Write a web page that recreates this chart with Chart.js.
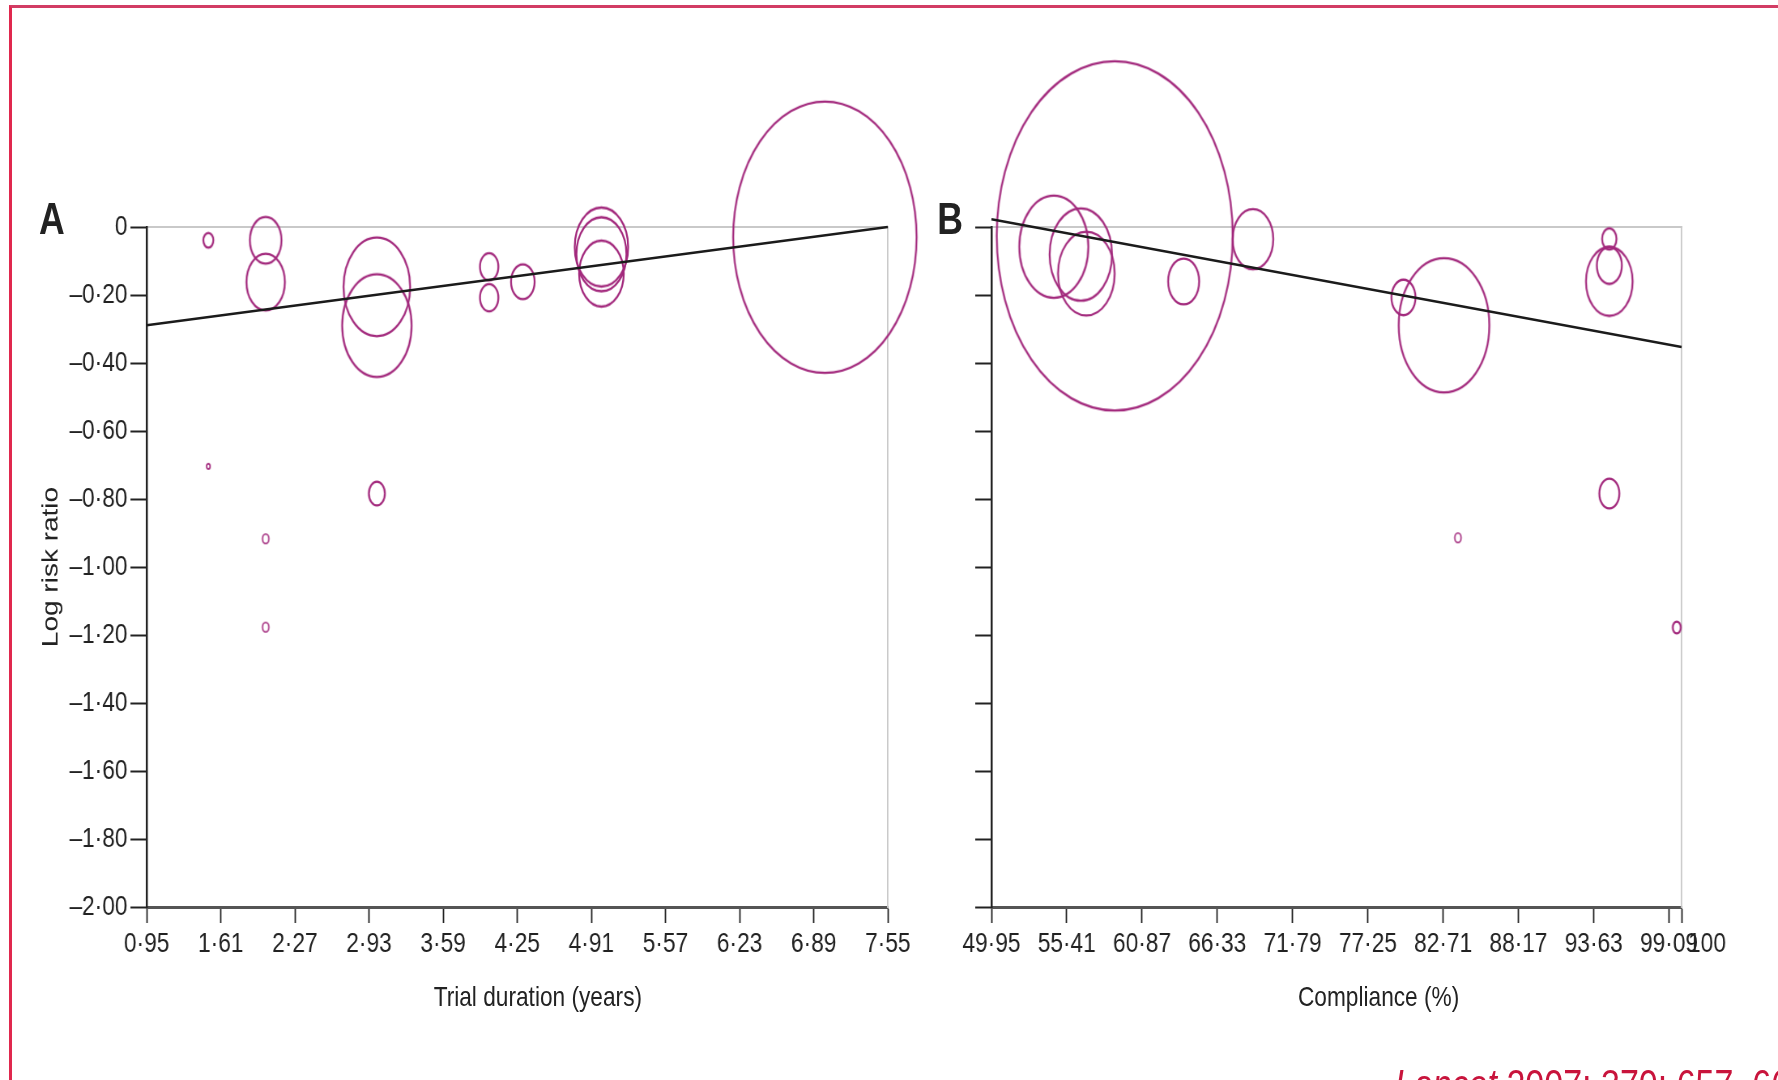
<!DOCTYPE html>
<html>
<head>
<meta charset="utf-8">
<script src="https://cdn.jsdelivr.net/npm/chart.js@4.4.0/dist/chart.umd.min.js"></script>
<style>
  body { margin: 0; background: #fff; }
  #page { position: relative; width: 1778px; height: 1080px; overflow: hidden; background: #fff; }
  #frame { position: absolute; left: 9px; top: 5px; width: 1800px; height: 1200px;
           border-top: 3px solid #d23c64; border-left: 3px solid #e0284e; }
  /* the whole figure is squashed sideways, as in the printed original */
  #stage { position: absolute; left: 0; top: 0; width: 2195px; height: 1080px;
           transform: scaleX(0.81); transform-origin: 0 0; }
  canvas { position: absolute; top: 0; }
  #chartA { left: 0; }
  #chartB { left: 1111px; }
  .lbl { position: absolute; color: #222; font-family: 'Liberation Sans', Arial, sans-serif; white-space: nowrap; }
  .panel { font-weight: bold; font-size: 44px; line-height: 44px; top: 197px; }
  .xtitle { font-size: 28px; line-height: 28px; width: 600px; text-align: center; top: 983px; }
  #cite { position: absolute; left: 1722px; top: 1064px; font-size: 42px; line-height: 42px; color: #c8143c;
          white-space: nowrap; font-family: 'Liberation Sans', Arial, sans-serif; }
</style>
</head>
<body>
<div id="page">
  <div id="frame"></div>
  <div id="stage">
    <canvas id="chartA" width="1160" height="1080"></canvas>
    <canvas id="chartB" width="1084" height="1080"></canvas>
    <div class="lbl panel" style="left:48px;">A</div>
    <div class="lbl panel" style="left:1157px;">B</div>
    <div class="lbl xtitle" style="left:364px;">Trial duration (years)</div>
    <div class="lbl xtitle" style="left:1402px;">Compliance (%)</div>
    <div id="cite"><i>Lancet</i> 2007; 370: 657–66</div>
  </div>
</div>
<script>
// panel A: trial duration
const durationX = [1.50, 1.50, 2.01, 2.01, 2.01, 2.01, 3.00, 3.00, 3.00, 4.00, 4.00, 4.30, 5.00, 5.00, 5.00, 6.99];
const durationY = [-0.039, -0.704, -0.039, -0.162, -0.917, -1.177, -0.176, -0.290, -0.784, -0.117, -0.208, -0.161, -0.059, -0.080, -0.137, -0.030];
const durationR = [5, 1.8, 15.8, 19.2, 3.2, 3.2, 33.3, 34.7, 8, 9.2, 9.2, 11.8, 26.7, 25, 22.3, 91.7];
const durationFitX = [0.95, 7.55];
const durationFitY = [-0.289, 0];
const durationTicks = [0.95, 1.61, 2.27, 2.93, 3.59, 4.25, 4.91, 5.57, 6.23, 6.89, 7.55];
const durationLabels = ['0·95', '1·61', '2·27', '2·93', '3·59', '4·25', '4·91', '5·57', '6·23', '6·89', '7·55'];

// panel B: compliance
const complianceX = [58.89, 54.47, 56.43, 56.83, 63.89, 68.91, 79.83, 82.77, 83.78, 94.76, 94.76, 94.76, 94.76, 99.65];
const complianceY = [-0.026, -0.058, -0.081, -0.137, -0.160, -0.036, -0.207, -0.289, -0.914, -0.035, -0.113, -0.160, -0.784, -1.178];
const complianceR = [118, 34.5, 31.2, 28.3, 15.5, 20.3, 12, 45.3, 3.2, 7.2, 12.5, 23.3, 10, 4];
const complianceFitX = [49.95, 100];
const complianceFitY = [0.023, -0.353];
const complianceTicks = [49.95, 55.41, 60.87, 66.33, 71.79, 77.25, 82.71, 88.17, 93.63, 99.09, 100];
const complianceLabels = ['49·95', '55·41', '60·87', '66·33', '71·79', '77·25', '82·71', '88·17', '93·63', '99·09', '100'];

// shared y axis
const logTicks = [0, -0.2, -0.4, -0.6, -0.8, -1.0, -1.2, -1.4, -1.6, -1.8, -2.0];
const logLabels = ['0', '–0·20', '–0·40', '–0·60', '–0·80', '–1·00', '–1·20', '–1·40', '–1·60', '–1·80', '–2·00'];

const FONT = "'Liberation Sans', Arial, sans-serif";
const RING = '#a2287c';
const SQUASH = 0.81;   // same as the #stage scaleX
const STRETCH = 1.48;  // bubbles print as tall ellipses

const ringCache = {};
function ring(r) {
  const key = r.toFixed(1);
  if (ringCache[key]) return ringCache[key];
  const rx = r / SQUASH, ry = r * STRETCH;
  const c = document.createElement('canvas');
  c.width = Math.ceil(rx * 2 + 5);
  c.height = Math.ceil(ry * 2 + 5);
  const g = c.getContext('2d');
  g.strokeStyle = RING;
  g.lineWidth = r < 4 ? 1.7 : 2.3;
  g.beginPath();
  g.ellipse(c.width / 2, c.height / 2, rx, ry, 0, 0, Math.PI * 2);
  g.stroke();
  ringCache[key] = c;
  return c;
}

function panel(id, p) {
  const points = p.xs.map((x, i) => ({ x: x, y: p.ys[i], r: p.rs[i] }));
  const fit = p.fitX.map((x, i) => ({ x: x, y: p.fitY[i] }));
  const last = p.ticks.length - 1;
  const tickFont = { family: FONT, size: 28 };

  const scales = {
    x: {
      type: 'linear', position: 'bottom', min: p.ticks[0], max: p.ticks[last],
      afterBuildTicks: s => { s.ticks = p.ticks.map(v => ({ value: v })); },
      afterFit: s => { s.height = 173; },
      ticks: {
        font: tickFont, color: '#222', padding: 4, maxRotation: 0, autoSkip: false,
        callback: (v, i) => (p.splitLast && i === last) ? '' : p.labels[i]
      },
      grid: { drawOnChartArea: false, tickLength: 16, tickColor: '#222', tickWidth: 1.8 },
      border: { color: '#555', width: 3 }
    },
    xTop: {
      type: 'linear', position: 'top', min: p.ticks[0], max: p.ticks[last],
      grid: { display: false }, ticks: { display: false },
      border: { color: '#c9c9c9', width: 2 },
      afterFit: s => { s.height = 0; }
    },
    y: {
      type: 'linear', position: 'left', min: -2, max: 0,
      afterBuildTicks: s => { s.ticks = logTicks.map(v => ({ value: v })); },
      afterFit: s => { s.width = p.yWidth; },
      ticks: { display: p.yLabels, font: tickFont, color: '#222', padding: 3.7, autoSkip: false,
               callback: (v, i) => logLabels[i] },
      grid: { drawOnChartArea: false, tickLength: 20, tickColor: '#222', tickWidth: 2 },
      border: { color: '#222', width: 2.5 },
      title: { display: p.yLabels, text: 'Log risk ratio', color: '#222',
               font: { family: FONT, size: 28 }, padding: { top: 46 } }
    },
    yRight: {
      type: 'linear', position: 'right', min: -2, max: 0,
      grid: { display: false }, ticks: { display: false },
      border: { color: '#c9c9c9', width: 1.8 },
      afterFit: s => { s.width = 0; }
    }
  };

  // "100" sits just right of its tick, clear of its close neighbour 99·09
  if (p.splitLast) {
    scales.xEnd = {
      type: 'linear', position: { y: -2 }, min: p.ticks[0], max: p.ticks[last],
      afterBuildTicks: s => { s.ticks = [{ value: p.ticks[last] }]; },
      ticks: { font: tickFont, color: '#222', padding: 4, maxRotation: 0, align: 'start', labelOffset: 8,
               autoSkip: false, callback: () => p.labels[last] },
      grid: { display: false, tickLength: 16 },
      border: { display: false }
    };
  }

  return new Chart(document.getElementById(id), {
    type: 'bubble',
    data: {
      datasets: [
        { type: 'line', data: fit, borderColor: '#1b1b1b', borderWidth: 2.5, pointRadius: 0, clip: false, xAxisID: 'x', yAxisID: 'y' },
        { type: 'bubble', data: points, xAxisID: 'x', yAxisID: 'y', clip: false,
          pointStyle: c => c.raw ? ring(c.raw.r) : 'circle',
          borderColor: RING, backgroundColor: 'rgba(0,0,0,0)' }
      ]
    },
    options: {
      responsive: false,
      animation: false,
      layout: { autoPadding: false, padding: { left: 0, top: 227, right: p.padRight, bottom: 0 } },
      plugins: { legend: { display: false }, tooltip: { enabled: false } },
      scales: scales
    }
  });
}

panel('chartA', {
  xs: durationX, ys: durationY, rs: durationR, fitX: durationFitX, fitY: durationFitY,
  ticks: durationTicks, labels: durationLabels, yWidth: 181, yLabels: true, padRight: 64, splitLast: false
});
panel('chartB', {
  xs: complianceX, ys: complianceY, rs: complianceR, fitX: complianceFitX, fitY: complianceFitY,
  ticks: complianceTicks, labels: complianceLabels, yWidth: 113, yLabels: false, padRight: 119, splitLast: true
});
</script>
</body>
</html>
